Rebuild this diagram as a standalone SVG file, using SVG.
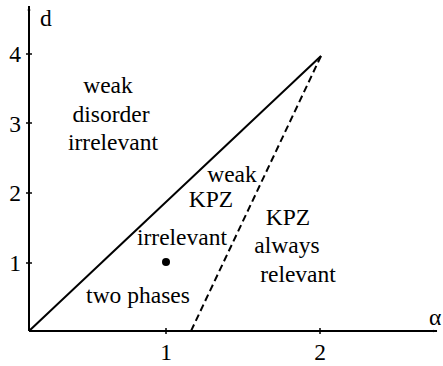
<svg xmlns="http://www.w3.org/2000/svg" width="443" height="366" viewBox="0 0 443 366">
<style>
text{font-family:'Liberation Serif','Times New Roman',Times,'DejaVu Serif',serif;font-size:23.5px;fill:#000}
.c{text-anchor:middle}
.ax{stroke:#000;stroke-width:2;fill:none}
.tk{stroke:#000;stroke-width:1.5}
</style>
<defs>
<marker id="ah" viewBox="0 0 10 10" refX="9" refY="5" markerWidth="5" markerHeight="5" orient="auto" markerUnits="userSpaceOnUse">
<path d="M0,2 L10,5 L0,8 z" fill="#000"/>
</marker>
</defs>
<g id="axes" font-family="Liberation Serif, serif">
<line class="ax" x1="29" y1="331" x2="29" y2="6" marker-end="url(#ah)"/>
<line class="ax" x1="29" y1="331" x2="437" y2="331" marker-end="url(#ah)"/>
<line class="tk" x1="26" y1="54" x2="32" y2="54"/>
<line class="tk" x1="26" y1="123" x2="32" y2="123"/>
<line class="tk" x1="26" y1="193" x2="32" y2="193"/>
<line class="tk" x1="26" y1="263" x2="32" y2="263"/>
<line class="tk" x1="166" y1="328" x2="166" y2="334"/>
<line class="tk" x1="320" y1="328" x2="320" y2="334"/>
<text x="40" y="26">d</text>
<text x="429" y="325">α</text>
<text x="21" y="62" text-anchor="end">4</text>
<text x="21" y="132" text-anchor="end">3</text>
<text x="21" y="201" text-anchor="end">2</text>
<text x="21" y="271" text-anchor="end">1</text>
<text class="c" x="166" y="360">1</text>
<text class="c" x="320" y="360">2</text>
</g>
<g id="connectors">
<line x1="29" y1="331" x2="321" y2="56" stroke="#000" stroke-width="2"/>
<line x1="321" y1="56" x2="191" y2="331" stroke="#000" stroke-width="2" stroke-dasharray="7,4"/>
</g>
<g id="region-weak-disorder">
<text class="c" x="108" y="93">weak</text>
<text class="c" x="111" y="122">disorder</text>
<text class="c" x="113" y="150">irrelevant</text>
</g>
<g id="region-weak-kpz">
<text class="c" x="232" y="182">weak</text>
<text class="c" x="211" y="207">KPZ</text>
</g>
<g id="region-irrelevant">
<text class="c" x="182" y="245">irrelevant</text>
</g>
<g id="point">
<circle cx="166" cy="262" r="4" fill="#000"/>
</g>
<g id="region-two-phases">
<text class="c" x="138" y="303">two phases</text>
</g>
<g id="region-kpz-relevant">
<text class="c" x="288" y="225">KPZ</text>
<text class="c" x="287" y="253">always</text>
<text class="c" x="298" y="282">relevant</text>
</g>
</svg>
